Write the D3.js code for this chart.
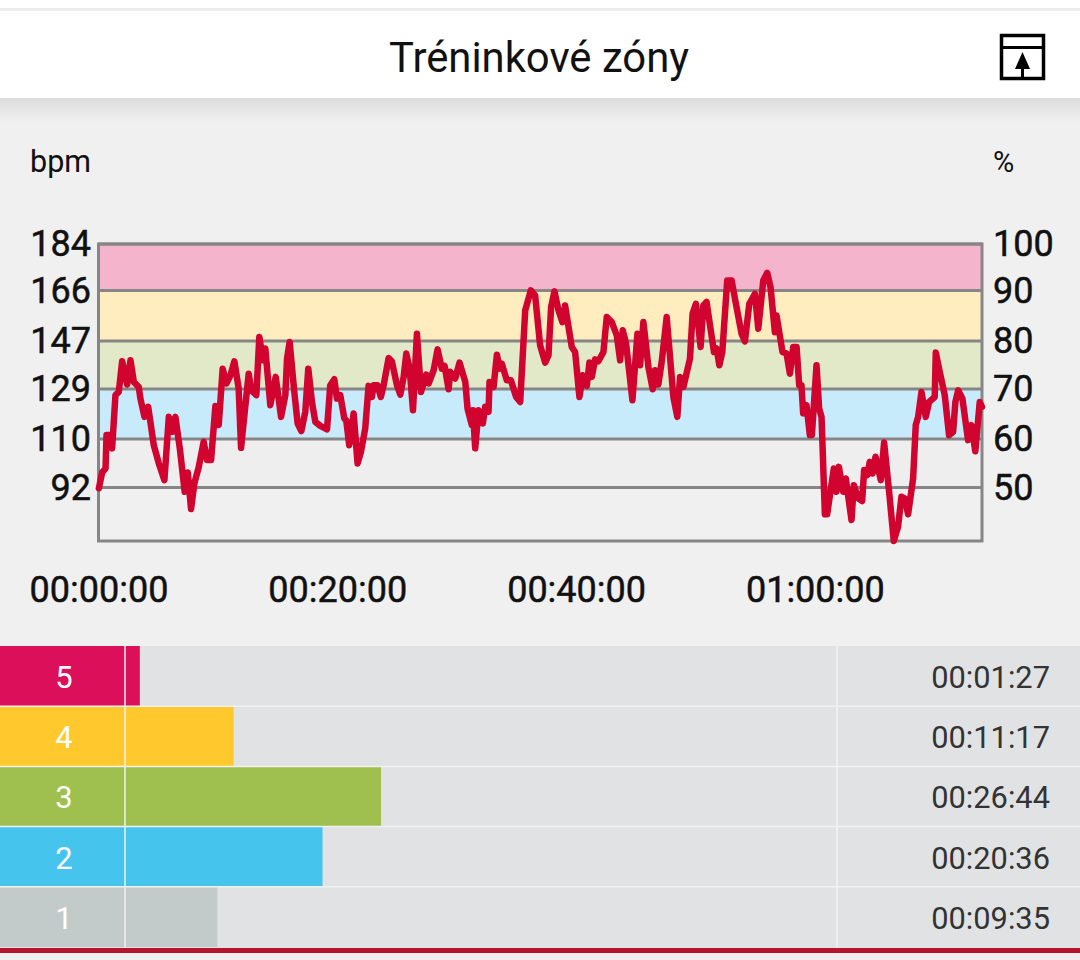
<!DOCTYPE html>
<html>
<head>
<meta charset="utf-8">
<title>Tréninkové zóny</title>
<script src="https://cdn.jsdelivr.net/npm/d3@7"></script>
<style>
  html, body { margin: 0; padding: 0; background: #f0f0f0; }
  svg { display: block; font-family: Roboto, sans-serif; }
</style>
</head>
<body>
<div id="chart"></div>
<script>
'use strict';

const titleText = 'Tréninkové zóny';

// Heart rate trace: minutes from start and bpm
const minutes = [
  0.03, 0.31, 0.59, 0.67, 0.95, 1.14, 1.42, 1.70, 1.98, 2.40, 2.68, 2.96, 3.37, 3.51, 3.85, 4.16,
  4.63, 5.05, 5.52, 5.89, 6.16, 6.44, 6.81, 7.22, 7.48, 7.75, 8.03, 8.40, 8.81, 9.09, 9.43, 9.79,
  10.07, 10.40, 10.71, 11.05, 11.38, 11.74, 11.94, 12.22, 12.58, 12.80, 13.22, 13.47, 13.78, 13.97,
  14.39, 14.84, 15.29, 15.65, 15.79, 16.01, 16.40, 16.68, 16.99, 17.32, 17.57, 17.88, 18.16, 18.58,
  19.14, 19.41, 19.75, 19.97, 20.25, 20.59, 20.75, 21.00, 21.37, 21.70, 21.98, 22.34, 22.62, 22.90,
  23.04, 23.37, 23.65, 23.88, 24.30, 24.57, 25.00, 25.28, 25.56, 25.78, 26.06, 26.34, 26.67, 27.01,
  27.45, 27.65, 28.07, 28.40, 28.76, 28.99, 29.32, 29.46, 29.88, 30.24, 30.72, 30.91, 31.27, 31.36,
  31.55, 31.83, 32.19, 32.39, 32.67, 32.75, 33.09, 33.37, 33.59, 33.78, 34.20, 34.54, 34.98, 35.32,
  35.74, 36.21, 36.57, 36.99, 37.41, 37.69, 37.91, 38.19, 38.53, 38.86, 39.08, 39.64, 39.92, 40.28,
  40.56, 40.90, 41.12, 41.32, 41.59, 41.87, 42.29, 42.57, 42.99, 43.41, 43.69, 43.91, 44.19, 44.72,
  45.14, 45.36, 45.64, 46.06, 46.42, 46.62, 46.89, 47.17, 47.59, 48.15, 48.48, 48.71, 48.99, 49.54,
  49.76, 50.04, 50.43, 50.66, 50.93, 51.55, 51.77, 52.00, 52.25, 52.66, 53.03, 53.31, 53.86, 54.14,
  54.51, 54.98, 55.26, 55.68, 56.01, 56.29, 56.65, 56.79, 57.29, 57.63, 57.91, 58.19, 58.47, 58.69,
  58.88, 59.02, 59.30, 59.58, 59.75, 60.14, 60.36, 60.56, 60.84, 61.03, 61.59, 61.81, 62.01, 62.37,
  62.59, 63.07, 63.26, 63.63, 63.96, 64.13, 64.38, 64.60, 64.83, 65.08, 65.52, 65.80, 66.22, 66.61,
  66.97, 67.25, 67.53, 67.81, 68.23, 68.45, 68.65, 68.93, 69.29, 69.57, 70.04, 70.13, 70.46, 70.88,
  71.24, 71.58, 71.77, 72.00, 72.36, 72.83, 73.11, 73.44, 73.81, 74.00
];
const bpm = [
  91.7, 97.7, 99.2, 111.8, 111.8, 106.8, 126.9, 128.1, 139.7, 130.9, 140.1, 131.9, 130.0, 125.6, 118.7, 122.5,
  108.0, 101.1, 94.8, 118.7, 113.0, 118.7, 106.8, 90.4, 97.7, 83.9, 93.6, 99.8, 109.3, 102.4, 102.4, 122.8,
  115.6, 136.9, 131.3, 134.4, 139.7, 129.4, 107.0, 119.3, 135.0, 128.7, 126.9, 148.9, 140.1, 144.5,
  123.1, 133.8, 118.7, 126.9, 140.7, 147.0, 128.1, 116.2, 113.3, 120.6, 136.9, 124.3, 116.8, 115.3,
  114.0, 130.6, 132.9, 125.6, 126.9, 118.1, 117.4, 108.0, 120.0, 101.1, 105.5, 114.3, 130.4, 126.2,
  130.6, 130.6, 126.2, 130.6, 140.9, 139.7, 130.6, 127.1, 133.8, 142.6, 136.9, 121.2, 150.1, 128.1,
  134.7, 131.3, 136.3, 144.2, 136.9, 137.9, 129.1, 135.7, 133.2, 139.2, 131.9, 121.8, 115.6, 121.2,
  106.8, 121.2, 116.2, 122.5, 120.6, 131.9, 130.0, 142.2, 136.9, 138.8, 132.5, 132.5, 126.2, 124.3,
  158.9, 166.5, 164.6, 145.7, 139.2, 141.9, 160.2, 166.1, 158.9, 154.5, 160.8, 145.1, 143.2, 126.2,
  134.4, 130.4, 139.2, 133.8, 140.4, 139.7, 143.2, 156.4, 154.5, 149.5, 140.1, 151.4, 146.3, 125.0,
  150.1, 138.2, 154.5, 137.5, 129.1, 136.3, 130.9, 139.4, 156.4, 126.2, 118.7, 133.8, 130.0, 140.7,
  157.7, 161.4, 145.1, 160.8, 162.1, 143.2, 144.5, 138.2, 143.2, 170.2, 170.2, 163.3, 150.1, 147.2,
  161.4, 165.2, 152.0, 170.2, 173.1, 167.7, 150.7, 157.0, 143.2, 142.6, 135.0, 145.1, 145.1, 130.6,
  130.6, 120.0, 123.1, 111.8, 111.8, 138.2, 121.8, 118.7, 81.9, 81.9, 99.2, 90.4, 99.8, 90.4,
  95.4, 79.7, 92.9, 87.9, 86.9, 98.6, 96.7, 101.7, 97.3, 103.6, 94.8, 109.0, 90.4, 71.8,
  77.2, 88.5, 87.9, 81.9, 95.4, 115.6, 118.7, 128.1, 118.7, 124.3, 126.2, 143.0, 135.7, 126.9,
  111.8, 113.0, 124.3, 128.7, 125.6, 109.9, 115.6, 105.7, 124.3, 122.5
];

// Axis labels
const pctTicks = [100, 90, 80, 70, 60, 50];
const bpmTicks = [184, 166, 147, 129, 110, 92];
const timeTicks = [0, 20, 40, 60];
const timeLabels = ['00:00:00', '00:20:00', '00:40:00', '01:00:00'];
const maxBpm = 184;

// Zones, top row first
const zones = ['5', '4', '3', '2', '1'];
const zoneTimes = ['00:01:27', '00:11:17', '00:26:44', '00:20:36', '00:09:35'];
const zoneSeconds = [87, 677, 1604, 1236, 575];
const zoneColors = ['#dc0f5b', '#ffc82c', '#9fbf4e', '#45c5ee', '#c2caca'];
const bandColors = ['#f4b4cc', '#ffedc0', '#e2e9c8', '#c8ebfb', '#eeeeee'];

const width = 1080, height = 960;

const svg = d3.select('#chart').append('svg')
    .attr('width', width)
    .attr('height', height);

svg.append('rect').attr('width', width).attr('height', height).attr('fill', '#f0f0f0');

// Header bar with the soft shadow under it
const grad = svg.append('defs').append('linearGradient')
    .attr('id', 'shadow').attr('x1', 0).attr('x2', 0).attr('y1', 0).attr('y2', 1);
grad.append('stop').attr('offset', 0).attr('stop-color', '#dcdcdc');
grad.append('stop').attr('offset', 1).attr('stop-color', '#f0f0f0');

svg.append('rect').attr('y', 98).attr('width', width).attr('height', 24).attr('fill', 'url(#shadow)');
svg.append('rect').attr('width', width).attr('height', 8).attr('fill', '#ffffff');
svg.append('rect').attr('y', 8).attr('width', width).attr('height', 3).attr('fill', '#ececec');
svg.append('rect').attr('y', 11).attr('width', width).attr('height', 87).attr('fill', '#ffffff');

svg.append('text')
    .attr('x', 539).attr('y', 72)
    .attr('text-anchor', 'middle')
    .attr('font-size', 41.8)
    .attr('fill', '#111')
    .text(titleText);

// Export icon
const icon = svg.append('g').attr('transform', 'translate(1000,34)');
icon.append('rect').attr('x', 1.5).attr('y', 1.5).attr('width', 42).attr('height', 43)
    .attr('fill', 'none').attr('stroke', '#000').attr('stroke-width', 3.5);
icon.append('rect').attr('x', 2).attr('y', 12).attr('width', 41).attr('height', 3).attr('fill', '#000');
icon.append('path').attr('d', 'M22.5 18 L30 35 L15 35 Z').attr('fill', '#000');
icon.append('rect').attr('x', 21).attr('y', 34).attr('width', 3).attr('height', 10).attr('fill', '#000');

// Scales: the drawn zone lines are not quite evenly spaced, so they get their own scale
const x = d3.scaleLinear().domain([0, 74]).range([98.5, 982]);
const yPct = d3.scaleLinear()
    .domain([100, 90, 80, 70, 60, 50, 39])
    .range([244, 290.5, 341, 389, 439, 487.5, 541]);
const yBpm = d3.scaleLinear().domain([184, 71.8]).range([244, 541]);

const chart = svg.append('g');

// Zone bands behind the trace
const bandEdges = d3.pairs(pctTicks);
chart.selectAll('rect.band')
    .data(bandEdges)
    .join('rect')
    .classed('band', true)
    .attr('x', x(0))
    .attr('width', x(74) - x(0))
    .attr('y', d => yPct(d[0]))
    .attr('height', d => yPct(d[1]) - yPct(d[0]))
    .attr('fill', (d, i) => bandColors[i]);

// Grid lines and frame
chart.selectAll('line.grid')
    .data(pctTicks)
    .join('line')
    .classed('grid', true)
    .attr('x1', x(0)).attr('x2', x(74))
    .attr('y1', d => yPct(d)).attr('y2', d => yPct(d))
    .attr('stroke', '#868686').attr('stroke-width', 3);

chart.append('rect')
    .attr('x', x(0)).attr('y', yPct(100))
    .attr('width', x(74) - x(0))
    .attr('height', yPct(39) - yPct(100))
    .attr('fill', 'none')
    .attr('stroke', '#868686').attr('stroke-width', 3);

// Heart rate line
const line = d3.line()
    .x((d, i) => x(minutes[i]))
    .y(d => yBpm(d));

chart.append('path')
    .datum(bpm)
    .attr('d', line)
    .attr('fill', 'none')
    .attr('stroke', '#d0042f')
    .attr('stroke-width', 6.5)
    .attr('stroke-linejoin', 'round')
    .attr('stroke-linecap', 'round');

// Axes
function styleAxis(g, size) {
  g.select('.domain').remove();
  g.selectAll('.tick line').remove();
  g.selectAll('text')
      .attr('font-size', size)
      .attr('font-family', 'Roboto, sans-serif')
      .attr('fill', '#111')
      .attr('stroke', '#111')
      .attr('stroke-width', 0.5);
}

svg.append('g')
    .attr('transform', 'translate(91,0)')
    .call(d3.axisLeft(yPct).tickValues(pctTicks).tickSize(0).tickPadding(0)
        .tickFormat((d, i) => bpmTicks[i]))
    .call(styleAxis, 36);

svg.append('g')
    .attr('transform', 'translate(993,0)')
    .call(d3.axisRight(yPct).tickValues(pctTicks).tickSize(0).tickPadding(0))
    .call(styleAxis, 36);

svg.append('g')
    .attr('transform', 'translate(0,576)')
    .call(d3.axisBottom(x).tickValues(timeTicks).tickSize(0).tickPadding(0)
        .tickFormat((d, i) => timeLabels[i]))
    .call(styleAxis, 36);

svg.append('text').attr('x', 30).attr('y', 172).attr('font-size', 30.5).attr('fill', '#111').text('bpm');
svg.append('text').attr('x', 993).attr('y', 172).attr('font-size', 29).attr('fill', '#111').text('%');

// Zone table
const rowY = d3.scaleBand().domain(zones).range([646, 947]);
const barX = d3.scaleLinear().domain([0, 1604]).range([126, 381]);

svg.append('rect').attr('y', 646).attr('width', width).attr('height', 302).attr('fill', '#e1e2e4');

const rows = svg.selectAll('g.row')
    .data(zones)
    .join('g')
    .classed('row', true)
    .attr('transform', d => `translate(0,${rowY(d)})`);

rows.append('rect')
    .attr('width', (d, i) => barX(zoneSeconds[i]))
    .attr('height', rowY.bandwidth())
    .attr('fill', (d, i) => zoneColors[i]);

rows.append('text')
    .attr('x', 64).attr('y', rowY.bandwidth() / 2 + 12)
    .attr('text-anchor', 'middle')
    .attr('font-size', 31)
    .attr('fill', '#ffffff')
    .text(d => d);

rows.append('text')
    .attr('x', 1050).attr('y', rowY.bandwidth() / 2 + 12)
    .attr('text-anchor', 'end')
    .attr('font-size', 30.8)
    .attr('fill', '#333')
    .text((d, i) => zoneTimes[i]);

// Thin separators between rows and columns
svg.selectAll('line.rowSep')
    .data(zones.slice(1))
    .join('line')
    .classed('rowSep', true)
    .attr('x1', 0).attr('x2', width)
    .attr('y1', d => rowY(d)).attr('y2', d => rowY(d))
    .attr('stroke', '#f2f2f2').attr('stroke-width', 1.5);

[125, 837].forEach(cx => {
  svg.append('line')
      .attr('x1', cx).attr('x2', cx)
      .attr('y1', 646).attr('y2', 948)
      .attr('stroke', '#f2f2f2').attr('stroke-width', 1.5);
});

svg.append('rect').attr('y', 948).attr('width', width).attr('height', 5).attr('fill', '#b5152d');
</script>
</body>
</html>
